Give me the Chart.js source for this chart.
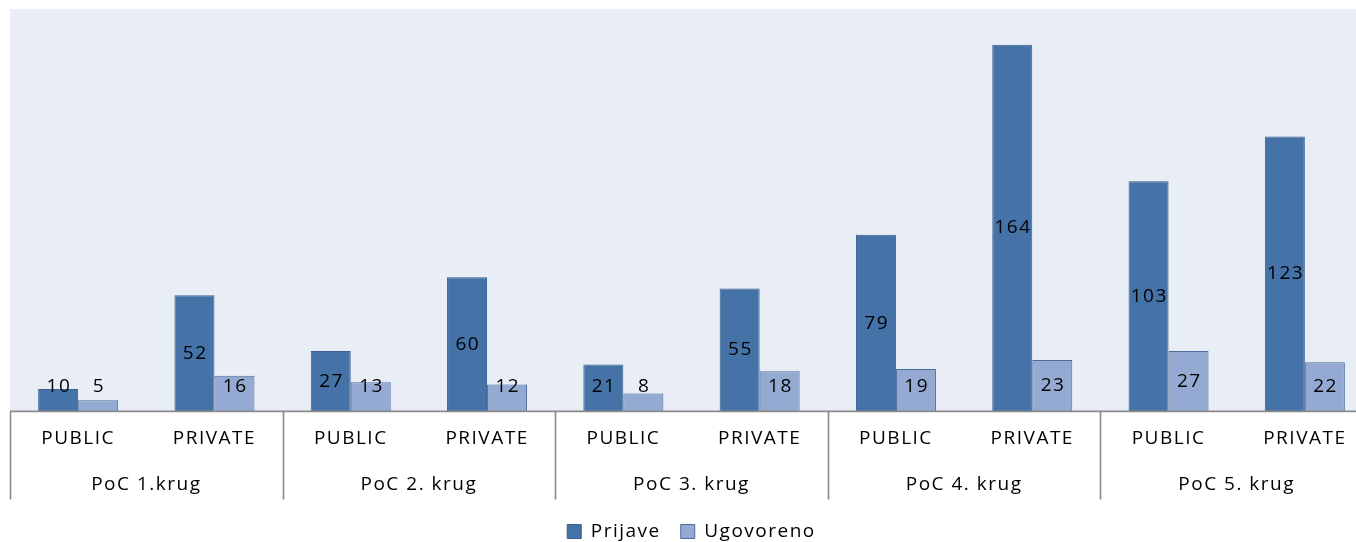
<!DOCTYPE html>
<html>
<head>
<meta charset="utf-8">
<script src="https://cdn.jsdelivr.net/npm/chart.js@4.4.1/dist/chart.umd.min.js"></script>
<style>
  html, body { margin: 0; padding: 0; background: #fff; overflow: hidden; }
  #wrap { position: relative; width: 1382px; height: 542px; }
</style>
</head>
<body>
<div id="wrap"><canvas id="pocChart"></canvas></div>
<script>
// kategorije i podaci
const tipovi = ['PUBLIC', 'PRIVATE', 'PUBLIC', 'PRIVATE', 'PUBLIC', 'PRIVATE', 'PUBLIC', 'PRIVATE', 'PUBLIC', 'PRIVATE'];
const krugovi = ['PoC 1.krug', 'PoC 2. krug', 'PoC 3. krug', 'PoC 4. krug', 'PoC 5. krug'];
const prijave = [10, 52, 27, 60, 21, 55, 79, 164, 103, 123];
const ugovoreno = [5, 16, 13, 12, 8, 18, 19, 23, 27, 22];

const FONT = "'Open Sans', Lato, sans-serif";
const FS = 19;

// malo razmaka izmedju slova (kao u originalu)
const spacing = {
    id: 'spacing',
    beforeLayout(chart) { chart.ctx.letterSpacing = '1.5px'; },
    beforeDraw(chart) { chart.ctx.letterSpacing = '1.5px'; }
};

// pozadina plot area
const plotBg = {
    id: 'plotBg',
    beforeDraw(chart) {
        const { ctx, chartArea: a } = chart;
        ctx.save();
        ctx.fillStyle = '#e9edf5';
        ctx.fillRect(a.left, a.top, a.right - a.left, a.bottom - a.top);
        ctx.restore();
    }
};

// vrijednosti u stupcima
const barLabels = {
    id: 'barLabels',
    afterDatasetsDraw(chart) {
        const ctx = chart.ctx;
        ctx.save();
        ctx.font = FS + 'px ' + FONT;
        ctx.fillStyle = '#000';
        ctx.textAlign = 'center';
        ctx.textBaseline = 'middle';
        chart.data.datasets.forEach((ds, i) => {
            chart.getDatasetMeta(i).data.forEach((bar, j) => {
                let y = (bar.y + bar.base) / 2;
                if (y > bar.base - 25) y = bar.base - 25;
                ctx.fillText(String(ds.data[j]), bar.x + 0.75, y);
            });
        });
        ctx.restore();
    }
};

// os i linije razdvajanja grupa
const groupLines = {
    id: 'groupLines',
    afterDraw(chart) {
        const { ctx, chartArea: a } = chart;
        const x = chart.scales.x;
        ctx.save();
        ctx.strokeStyle = '#8a8a8a';
        ctx.lineWidth = 1.6;
        ctx.beginPath();
        ctx.moveTo(a.left, a.bottom);
        ctx.lineTo(a.right, a.bottom);
        for (let k = 0; k <= tipovi.length; k += 2) {
            let xx;
            if (k === 0) xx = a.left;
            else if (k === tipovi.length) xx = a.right;
            else xx = (x.getPixelForValue(k - 1) + x.getPixelForValue(k)) / 2;
            ctx.moveTo(Math.round(xx) + 0.5, a.bottom);
            ctx.lineTo(Math.round(xx) + 0.5, a.bottom + 88);
        }
        ctx.stroke();
        ctx.restore();
    }
};

new Chart(document.getElementById('pocChart'), {
    type: 'bar',
    data: {
        labels: tipovi,
        datasets: [
            {
                label: 'Prijave',
                data: prijave,
                backgroundColor: '#4572a7',
                borderColor: '#3a5f8e',
                borderWidth: 1
            },
            {
                label: 'Ugovoreno',
                data: ugovoreno,
                backgroundColor: '#95aad2',
                borderColor: '#4a6c9c',
                borderWidth: 1
            }
        ]
    },
    options: {
        responsive: true,
        maintainAspectRatio: false,
        animation: false,
        layout: { padding: { left: 10, right: 9, top: 9, bottom: -9 } },
        datasets: { bar: { barPercentage: 1, categoryPercentage: 0.587 } },
        scales: {
            y: { display: false, min: 0, max: 180 },
            x: {
                grid: { display: false, drawTicks: false },
                border: { display: false },
                ticks: { color: '#000', font: { size: FS, family: FONT }, padding: 16, maxRotation: 0, autoSkip: false }
            },
            x2: {
                type: 'category',
                position: 'bottom',
                labels: krugovi,
                offset: true,
                grid: { display: false, drawTicks: false },
                border: { display: false },
                ticks: { color: '#000', font: { size: FS, family: FONT }, padding: 7, maxRotation: 0, autoSkip: false },
                afterFit(scale) { scale.height -= 1; }
            }
        },
        plugins: {
            legend: {
                position: 'bottom',
                labels: { color: '#000', font: { size: FS, family: FONT }, boxWidth: 14, boxHeight: 14, padding: 20 }
            },
            tooltip: { enabled: false }
        }
    },
    plugins: [spacing, plotBg, barLabels, groupLines]
});
</script>
</body>
</html>
